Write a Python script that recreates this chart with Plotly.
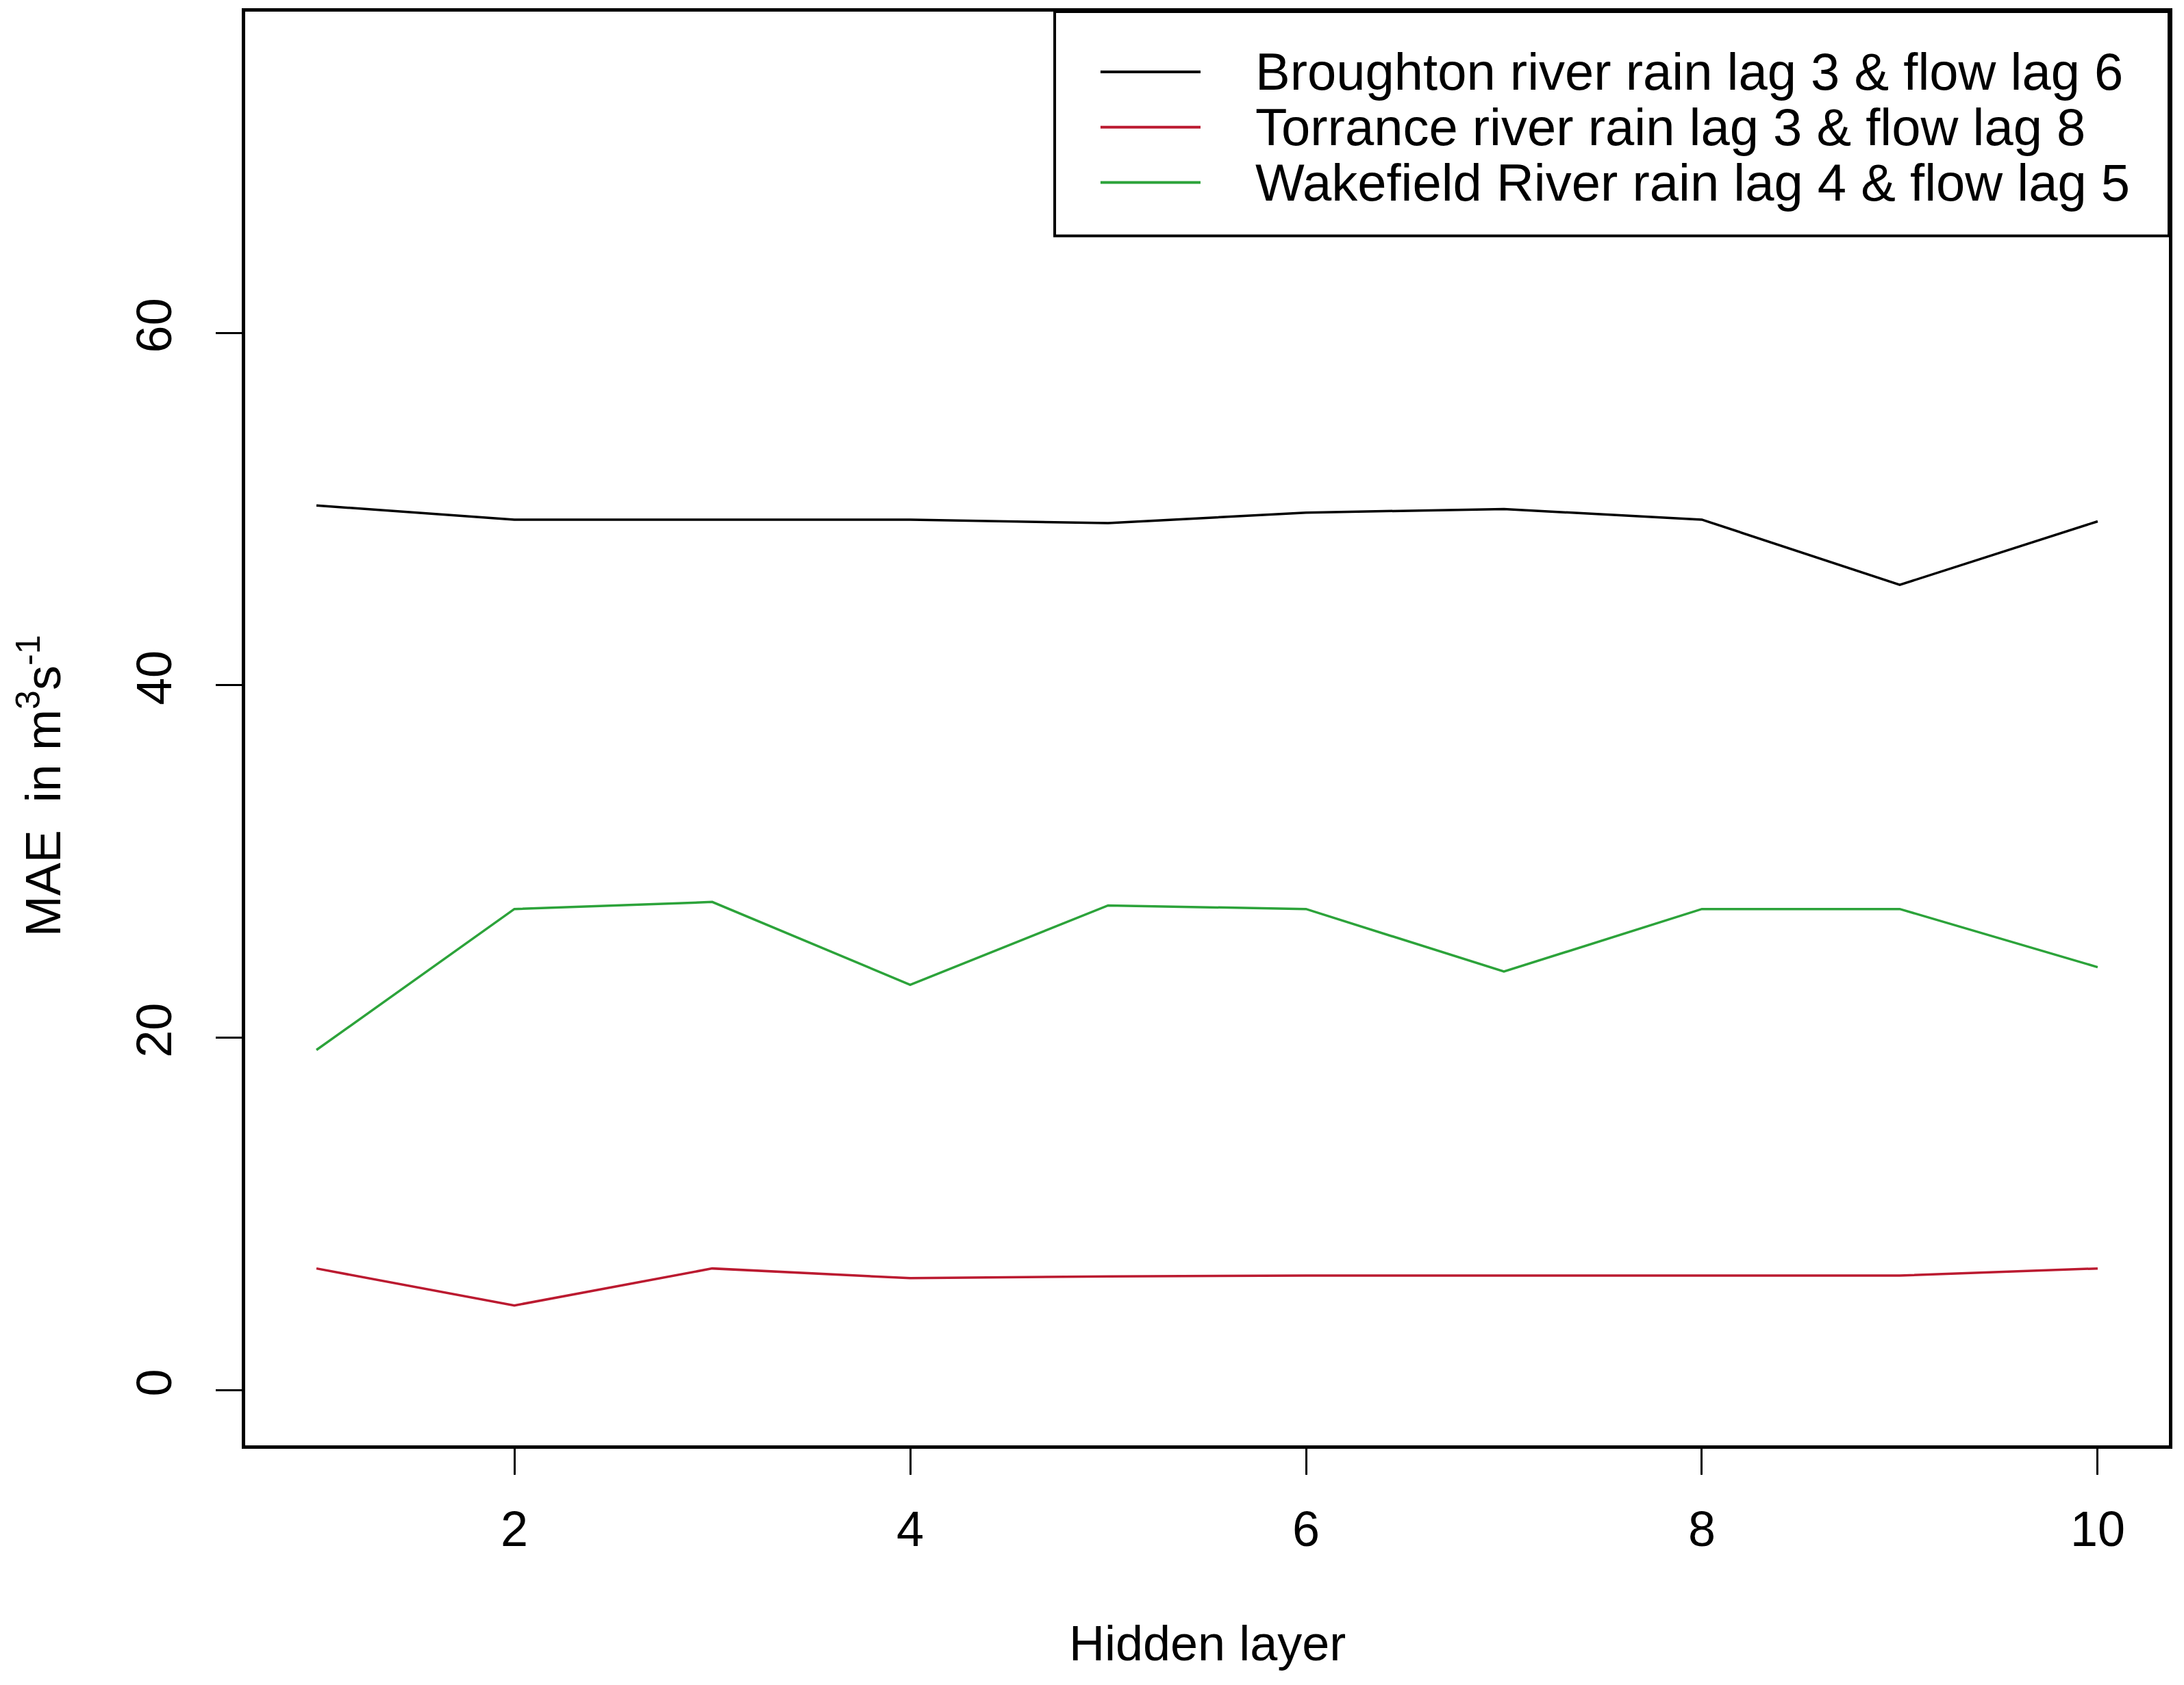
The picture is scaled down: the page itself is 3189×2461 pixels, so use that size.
import plotly.graph_objects as go

hidden_layer = [1, 2, 3, 4, 5, 6, 7, 8, 9, 10]
broughton_mae = [50.2, 49.4, 49.4, 49.4, 49.2, 49.8, 50.0, 49.4, 45.7, 49.3]
torrance_mae = [6.9, 4.8, 6.9, 6.35, 6.45, 6.5, 6.5, 6.5, 6.5, 6.9]
wakefield_mae = [19.3, 27.3, 27.7, 23.0, 27.5, 27.3, 23.75, 27.3, 27.3, 24.0]

series_names = ['Broughton river rain lag 3 & flow lag 6',
                'Torrance river rain lag 3 & flow lag 8',
                'Wakefield River rain lag 4 & flow lag 5']
series_colors = ['#000000', '#bb1a30', '#2ca33a']
x_ticks = [2, 4, 6, 8, 10]
y_ticks = [0, 20, 40, 60]

FONT = 'Liberation Sans, Arial, sans-serif'

fig = go.Figure()
for name, values, color in zip(series_names, [broughton_mae, torrance_mae, wakefield_mae], series_colors):
    fig.add_trace(go.Scatter(x=hidden_layer, y=values, mode='lines', name=name,
                             line=dict(color=color, width=3.5), showlegend=False))

axis_style = dict(showline=True, mirror=True, linecolor='black', linewidth=5,
                  ticks='outside', ticklen=38, tickwidth=3, tickcolor='black',
                  showgrid=False, zeroline=False,
                  tickfont=dict(family=FONT, size=72, color='black'))

fig.update_xaxes(range=[0.64, 10.36], tickvals=x_ticks, ticklabelstandoff=18, **axis_style)
fig.update_yaxes(range=[-3.14, 78.23], tickvals=y_ticks, tickangle=-90,
                 ticklabelstandoff=36, **axis_style)

# hand-drawn legend box in the top right, like the base R legend()
fig.add_shape(type='rect', xref='paper', yref='paper', x0=0.4208, x1=1.0, y0=0.8436, y1=1.0,
              line=dict(color='black', width=4), fillcolor='white', layer='above')
legend_rows = [0.958, 0.9194, 0.8808]
for name, color, yy in zip(series_names, series_colors, legend_rows):
    fig.add_shape(type='line', xref='paper', yref='paper', x0=0.4446, x1=0.4966, y0=yy, y1=yy,
                  line=dict(color=color, width=4), layer='above')
    fig.add_annotation(text=name, xref='paper', yref='paper', x=0.5244, y=yy,
                       xanchor='left', yanchor='middle', showarrow=False,
                       font=dict(family=FONT, size=76, color='black'))

fig.add_annotation(text='Hidden layer', xref='paper', yref='paper', x=0.5, y=-0.138,
                   xanchor='center', yanchor='middle', showarrow=False,
                   font=dict(family=FONT, size=72, color='black'))
fig.add_annotation(text='MAE  in m<sup>3</sup>s<sup>-1</sup>', xref='paper', yref='paper',
                   x=-0.107, y=0.46, textangle=-90, xanchor='center', yanchor='middle',
                   showarrow=False, font=dict(family=FONT, size=72, color='black'))

fig.update_layout(width=3189, height=2461, plot_bgcolor='white', paper_bgcolor='white',
                  margin=dict(l=358, r=22, t=14, b=350))

fig.write_html("out.html", config={'displayModeBar': False},
               post_script="document.body.style.margin='0';document.body.style.overflow='hidden';")
